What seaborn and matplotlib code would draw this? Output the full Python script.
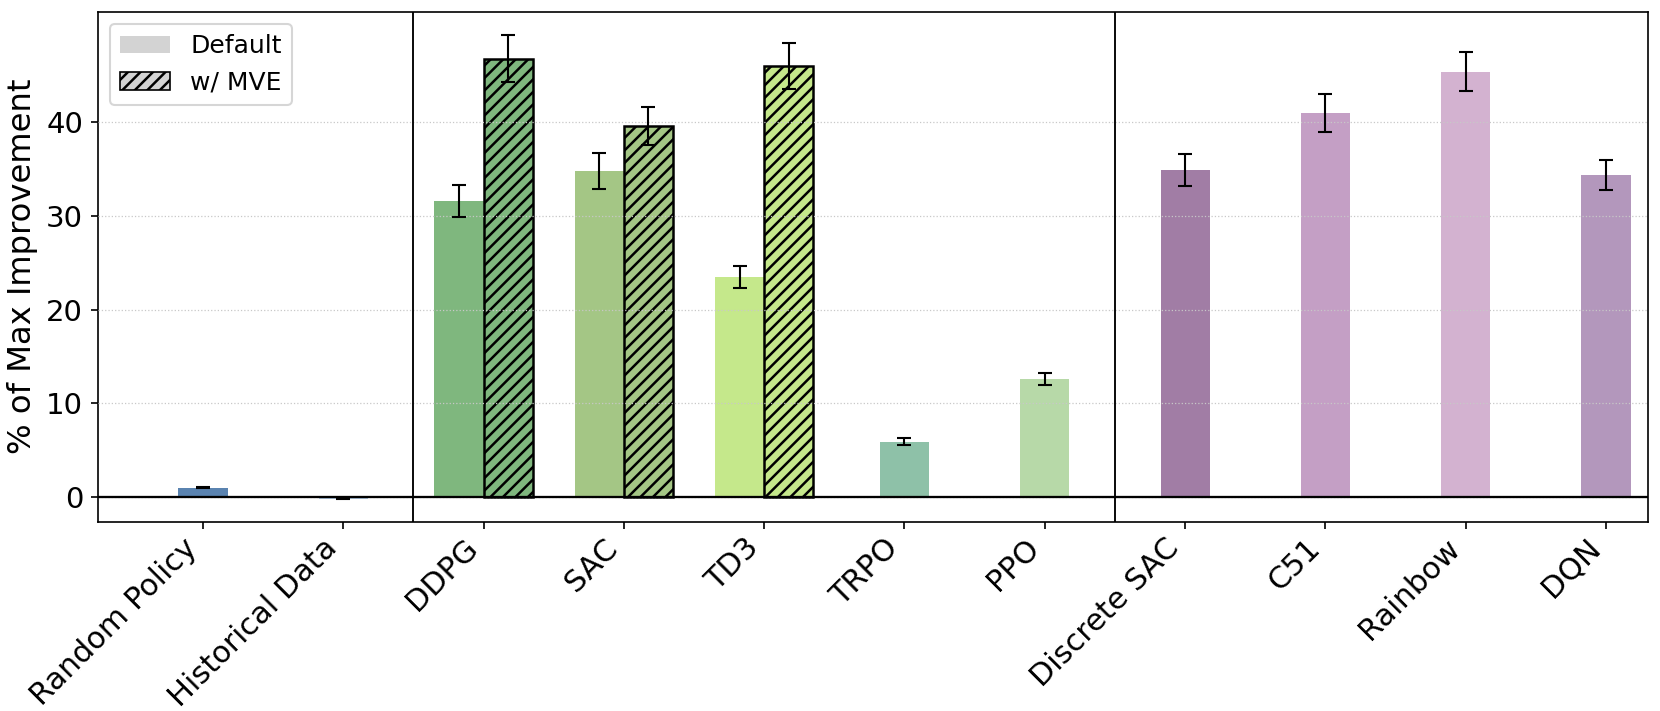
import numpy as np
import pandas as pd
import matplotlib
matplotlib.use("Agg")
import matplotlib.pyplot as plt
from matplotlib.patches import Patch
import seaborn as sns

# ---------------- data ----------------
methods = ["Random Policy", "Historical Data", "DDPG", "SAC", "TD3", "TRPO", "PPO",
           "Discrete SAC", "C51", "Rainbow", "DQN"]
default_mean = [1.0, -0.2, 31.6, 34.8, 23.5, 5.9, 12.6, 34.9, 41.0, 45.4, 34.4]
default_err = [0.06, 0.05, 1.7, 1.9, 1.2, 0.35, 0.65, 1.7, 2.0, 2.1, 1.6]

mve_methods = ["DDPG", "SAC", "TD3"]
mve_mean = [46.8, 39.6, 46.0]
mve_err = [2.5, 2.0, 2.5]

colors = ["#5a83b0", "#a9c1db", "#7fb77e", "#a4c685", "#c5e88b", "#8ec1a8", "#b7d9a8",
          "#a17da5", "#c49fc5", "#d3b2d0", "#b397bc"]

yticks = [0, 10, 20, 30, 40]
group_breaks = [1.5, 6.5]

# ---------------- style ----------------
plt.rcParams["hatch.linewidth"] = 1.2
plt.rcParams["font.family"] = ["DejaVu Sans"]

BAR_W = 0.35
fig = plt.figure(figsize=(1660 / 150, 711 / 150), dpi=150)
ax = fig.add_axes([0.0589, 0.2662, 0.9339, 0.7173])

idx = np.arange(len(methods))
offset = np.array([-BAR_W / 2 if m in mve_methods else 0.0 for m in methods])
pos_default = idx + offset
pos_mve = np.array([methods.index(m) for m in mve_methods]) + BAR_W / 2

palette = dict(zip(methods, colors))

df_def = pd.DataFrame({"method": methods, "pos": pos_default, "value": default_mean})
df_mve = pd.DataFrame({"method": mve_methods, "pos": pos_mve, "value": mve_mean})

def native_gap(p):
    u = np.unique(p)
    return np.min(np.diff(u)) if len(u) > 1 else 1.0

sns.barplot(data=df_def, x="pos", y="value", hue="method", palette=palette,
            native_scale=True, dodge=False, legend=False, errorbar=None,
            saturation=1, width=BAR_W / native_gap(pos_default),
            linewidth=0, ax=ax, zorder=1)
sns.barplot(data=df_mve, x="pos", y="value", hue="method", palette=palette,
            native_scale=True, dodge=False, legend=False, errorbar=None,
            saturation=1, width=BAR_W / native_gap(pos_mve),
            edgecolor="black", linewidth=1.2, hatch="////", ax=ax, zorder=1)

ax.errorbar(pos_default, default_mean, yerr=default_err, fmt="none", ecolor="black",
            elinewidth=1.0, capsize=3.5, capthick=1.0, zorder=4)
ax.errorbar(pos_mve, mve_mean, yerr=mve_err, fmt="none", ecolor="black",
            elinewidth=1.0, capsize=3.5, capthick=1.0, zorder=4)

ax.axhline(0, color="black", lw=1.1, zorder=3)
for b in group_breaks:
    ax.axvline(b, color="black", lw=0.9, zorder=3)

ax.set_axisbelow(False)
ax.yaxis.grid(True, linestyle=":", color="#c8c8c8", linewidth=0.6, zorder=2.5)
ax.xaxis.grid(False)

ax.set_xlim(-0.75, 10.3)
ax.set_ylim(-2.65, 51.8)
ax.set_yticks(yticks)
ax.set_xticks(idx)
ax.set_xticklabels(methods, rotation=45, ha="right", fontsize=14.5)
ax.tick_params(axis="x", pad=2)
ax.tick_params(axis="y", labelsize=14)
ax.set_xlabel("")
ax.set_ylabel("% of Max Improvement", fontsize=15.5)

handles = [Patch(facecolor="lightgray", edgecolor="none", label="Default"),
           Patch(facecolor="lightgray", edgecolor="black", hatch="////", linewidth=0.8,
                 label="w/ MVE")]
ax.legend(handles=handles, loc="upper left", fontsize=12)

fig.savefig("out.png", dpi=150)
